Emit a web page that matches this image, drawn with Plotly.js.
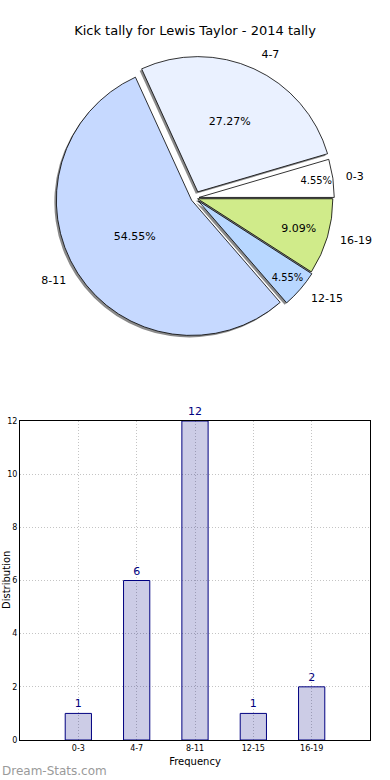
<!DOCTYPE html>
<html>
<head>
<meta charset="utf-8">
<script src="https://cdn.plot.ly/plotly-3.0.1.min.js"></script>
<style>html,body{margin:0;padding:0;background:#fff;}#chart{width:390px;height:780px;}</style>
</head>
<body>
<div id="chart"></div>
<script>
const categories = ['0-3', '4-7', '8-11', '12-15', '16-19'];
const counts = [1, 6, 12, 1, 2];
const sliceColors = ['#ffffff', '#eaf1ff', '#c6d9ff', '#b8d7ff', '#d0eb8a'];
const pulls = [0.03, 0.05, 0.03, 0.03, 0.02];
const yTicks = [0, 2, 4, 6, 8, 10, 12];

const FONT = 'DejaVu Sans, Verdana, sans-serif';
const W = 390, H = 780;
const px = v => v / W, py = v => 1 - v / H;

// matplotlib-style start at 3 o'clock going counterclockwise:
// in Plotly (counterclockwise) the first slice ends at `rotation`, so offset by its angle.
const total = counts.reduce((a, b) => a + b, 0);
const pieRotation = 90 - 360 * counts[0] / total;

const pieCx = 195, pieCy = 198, pieHalf = 142;
const dom = (half, dx, dy) => ({x: [px(pieCx + dx - half), px(pieCx + dx + half)], y: [py(pieCy + dy + half), py(pieCy + dy - half)]});

const common = {
  type: 'pie', labels: categories, values: counts, sort: false,
  direction: 'counterclockwise', rotation: pieRotation, pull: pulls,
  showlegend: false, hoverinfo: 'skip'
};
const shadow = Object.assign({}, common, {
  domain: dom(pieHalf, -2, 2),
  marker: {colors: categories.map(() => '#8a8a8a'), line: {width: 0}},
  textinfo: 'none'
});
const pie = Object.assign({}, common, {
  domain: dom(pieHalf, 0, 0),
  marker: {colors: sliceColors, line: {color: '#000', width: 0.8}},
  texttemplate: '%{percent:.2%}', textposition: 'inside',
  insidetextorientation: 'horizontal',
  insidetextfont: {family: FONT, size: 11, color: '#000'}
});
const labelRing = Object.assign({}, common, {
  domain: dom(pieHalf + 10, 0, 0),
  marker: {colors: categories.map(() => 'rgba(0,0,0,0)'), line: {width: 0}},
  texttemplate: '%{label}', textposition: 'outside',
  outsidetextfont: {family: FONT, size: 11, color: '#000'}
});
const bars = {
  type: 'bar', x: categories, y: counts,
  width: 0.45,
  marker: {color: 'rgba(0,0,128,0.2)', line: {color: '#000080', width: 1}},
  text: counts.map(String), textposition: 'outside', cliponaxis: false,
  textfont: {family: FONT, size: 11, color: '#000080'},
  xaxis: 'x', yaxis: 'y', showlegend: false, hoverinfo: 'skip'
};

const gridStyle = {showgrid: true, gridcolor: '#c4c4c4', griddash: '1px,2px', gridwidth: 1};

const layout = {
  width: W, height: H,
  margin: {l: 0, r: 0, t: 0, b: 0},
  paper_bgcolor: '#fff', plot_bgcolor: '#fff',
  font: {family: FONT, size: 11, color: '#000'},
  title: {text: 'Kick tally for Lewis Taylor - 2014 tally', x: 0.5, xanchor: 'center', y: py(30), yanchor: 'middle', font: {family: FONT, size: 13, color: '#000'}},
  xaxis: Object.assign({
    domain: [px(20), px(370)], anchor: 'y', range: [-1, 5], type: 'category',
    showline: true, linecolor: '#000', linewidth: 1, mirror: true,
    ticks: '', tickfont: {family: FONT, size: 8, color: '#000'},
    title: {text: 'Frequency', font: {family: FONT, size: 10}, standoff: 6},
    automargin: false, zeroline: false, fixedrange: true
  }, gridStyle),
  yaxis: Object.assign({
    domain: [py(740), py(421)], anchor: 'x', range: [0, 12],
    tickvals: yTicks, ticktext: yTicks.map(String),
    showline: true, linecolor: '#000', linewidth: 1, mirror: true,
    ticks: '', tickfont: {family: FONT, size: 8, color: '#000'},
    automargin: false, zeroline: false, fixedrange: true
  }, gridStyle),
  annotations: [{
    text: 'Distribution', xref: 'paper', yref: 'paper', x: px(6), y: py(580),
    xanchor: 'center', yanchor: 'middle', textangle: -90, showarrow: false,
    font: {family: FONT, size: 10, color: '#000'}
  }, {
    text: 'Dream-Stats.com', xref: 'paper', yref: 'paper', x: 0, y: py(771),
    xanchor: 'left', yanchor: 'middle', showarrow: false,
    font: {family: FONT, size: 12, color: '#9a9a9a'}
  }]
};

Plotly.newPlot('chart', [shadow, pie, labelRing, bars], layout, {displayModeBar: false, staticPlot: true});
</script>
</body>
</html>
